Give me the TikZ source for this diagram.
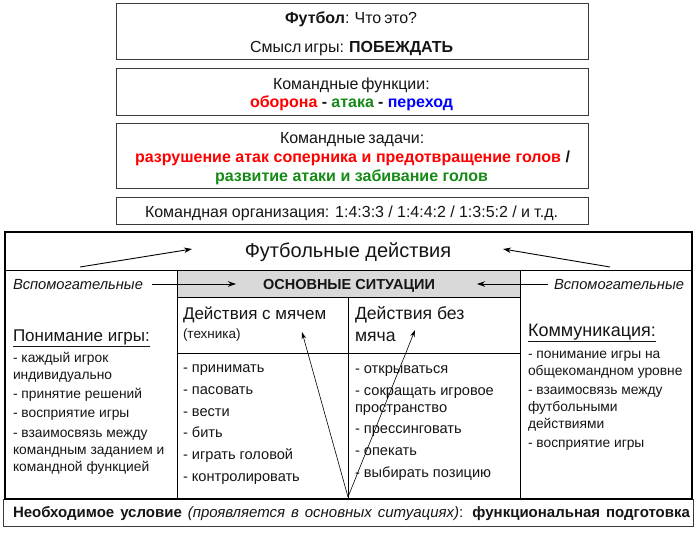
\documentclass[tikz,border=0pt]{standalone}
\usepackage{fontspec}
\setmainfont{Liberation Sans}
\usetikzlibrary{arrows.meta}
\definecolor{tred}{HTML}{FF0000}
\definecolor{tgreen}{HTML}{168A16}
\definecolor{tblue}{HTML}{0000FF}
\definecolor{bandgray}{HTML}{D9D9D9}
\definecolor{ink}{HTML}{151515}
\definecolor{boxline}{HTML}{3A3A3A}
\newcommand\fsz[2]{\fontsize{#1}{#2}\selectfont}
\newcommand\spreadbox[2]{\makebox[#1pt][s]{#2}}
\begin{document}
\begin{tikzpicture}[x=1pt,y=-1pt,
  every node/.style={inner sep=0pt, outer sep=0pt, text=ink},
  frame/.style={draw=boxline, line width=0.9pt},
  outer/.style={draw=black, line width=1.6pt},
  rule/.style={draw=black, line width=0.7pt},
  arr/.style={-{Stealth[length=8pt,width=5.5pt]}, line width=0.9pt, black},
  thinarr/.style={-{Stealth[length=7pt,width=4.5pt]}, line width=0.6pt, black},
  toptext/.style={anchor=base, font=\fsz{16}{19}},
  head/.style={anchor=base west, font=\fsz{17}{22}},
  item/.style={anchor=base west, align=left, font=\fsz{13.8}{17}},
  mitem/.style={anchor=base west, align=left, font=\fsz{14.6}{17}},
]
\useasboundingbox (0,0) rectangle (700,533);

% ---------- top boxes ----------
\draw[frame] (116,3) rectangle (588,59);
\draw[frame] (116,68) rectangle (588,115);
\draw[frame] (116,123) rectangle (588,188);
\draw[frame] (116,197) rectangle (588,224);

\node[toptext] (t1) at (351,23) {\spreadbox{132}{\textbf{Футбол}: Что это?}};
\node[toptext] (t2) at (351,52) {\spreadbox{202}{Смысл игры: \textbf{ПОБЕЖДАТЬ}}};
\node[toptext] (t3) at (350.5,89) {\spreadbox{155}{Командные функции:}};
\node[toptext] (t4) at (351.5,107) {\spreadbox{203}{\bfseries\textcolor{tred}{оборона} - \textcolor{tgreen}{атака} - \textcolor{tblue}{переход}}};
\node[toptext] (t5) at (351.5,143) {\spreadbox{143}{Командные задачи:}};
\node[toptext] (t6) at (352.5,162) {\spreadbox{435}{\bfseries\textcolor{tred}{разрушение атак соперника и предотвращение голов} /}};
\node[toptext] (t7) at (351.5,181) {\spreadbox{273}{\bfseries\color{tgreen}развитие атаки и забивание голов}};
\node[toptext] (t8) at (351.5,217) {\spreadbox{413}{Командная организация: 1:4:3:3 / 1:4:4:2 / 1:3:5:2 / и т.д.}};

% ---------- bottom condition box ----------
\draw[frame, fill=white] (3,499) rectangle (693,526);
\node[anchor=base west, font=\fsz{15}{18}] (cond) at (13,517)
  {\spreadbox{677}{\textbf{Необходимое условие} \textit{(проявляется в основных ситуациях)}: \textbf{функциональная подготовка}}};

% ---------- main table ----------
\fill[bandgray] (177,270) rectangle (520,297);
\draw[rule] (5,270) -- (692,270);
\draw[rule] (177,297) -- (520,297);
\draw[rule] (177,270) -- (177,499);
\draw[rule] (520,270) -- (520,499);
\draw[rule] (348,297) -- (348,499);
\draw[rule] (177,353) -- (520,353);
\draw[outer] (5,232) rectangle (692,499);

\node[anchor=base, font=\fsz{20}{24}] (title) at (348,257) {Футбольные действия};
\node[anchor=base, font=\bfseries\fsz{14.5}{17}] (osn) at (349,289) {ОСНОВНЫЕ СИТУАЦИИ};
\node[anchor=base west, font=\itshape\fsz{14.7}{17}] (vspL) at (13,289) {Вспомогательные};
\node[anchor=base east, font=\itshape\fsz{14.7}{17}] (vspR) at (684,289) {Вспомогательные};

\node[head] (hL) at (13,341) {\underline{Понимание игры:}};
\node[head, font=\fsz{18}{22}] (hR) at (528,336) {\underline{Коммуникация:}};
\node[head] (hB) at (183,319) {Действия с мячем};
\node[anchor=base west, font=\fsz{13.5}{16}] (tech) at (183,338) {(техника)};
\node[head, align=left, font=\fsz{17.6}{22}] (hN) at (355,341) {Действия без\\мяча};

% left column (base anchor = baseline of last line)
\node[item] (l1) at (13,379) {- каждый игрок\\индивидуально};
\node[item] (l2) at (13,398) {- принятие решений};
\node[item] (l3) at (13,417) {- восприятие игры};
\node[item] (l4) at (13,471) {- взаимосвязь между\\командным заданием и\\командной функцией};

% ball column
\node[mitem] (b1) at (183,372) {- принимать};
\node[mitem] (b2) at (183,394) {- пасовать};
\node[mitem] (b3) at (183,416) {- вести};
\node[mitem] (b4) at (183,437) {- бить};
\node[mitem] (b5) at (183,459) {- играть головой};
\node[mitem] (b6) at (183,481) {- контролировать};

% no-ball column
\node[mitem] (n1) at (355,373) {- открываться};
\node[mitem] (n2) at (355,412) {- сокращать игровое\\пространство};
\node[mitem] (n3) at (355,433) {- прессинговать};
\node[mitem] (n4) at (355,455) {- опекать};
\node[mitem] (n5) at (355,477) {- выбирать позицию};

% right column
\node[item] (r1) at (528,375) {- понимание игры на\\общекомандном уровне};
\node[item] (r2) at (528,428) {- взаимосвязь между\\футбольными\\действиями};
\node[item] (r3) at (528,447) {- восприятие игры};

% ---------- arrows ----------
\coordinate (aLs) at (80,267);   \coordinate (aLe) at (192,249);
\coordinate (aRs) at (610,267);  \coordinate (aRe) at (503,249);
\coordinate (sLs) at (152,284);  \coordinate (sLe) at (236,284);
\coordinate (sRs) at (548,284);  \coordinate (sRe) at (477,284);
\coordinate (apex) at (348,497);
\coordinate (tipB) at (302,332); \coordinate (tipN) at (415,330);

\draw[arr] (aLs) -- (aLe);
\draw[arr] (aRs) -- (aRe);
\draw[arr] (sLs) -- (sLe);
\draw[arr] (sRs) -- (sRe);
\draw[thinarr] (apex) -- (tipB);
\draw[thinarr] (apex) -- (tipN);
\end{tikzpicture}
\end{document}
